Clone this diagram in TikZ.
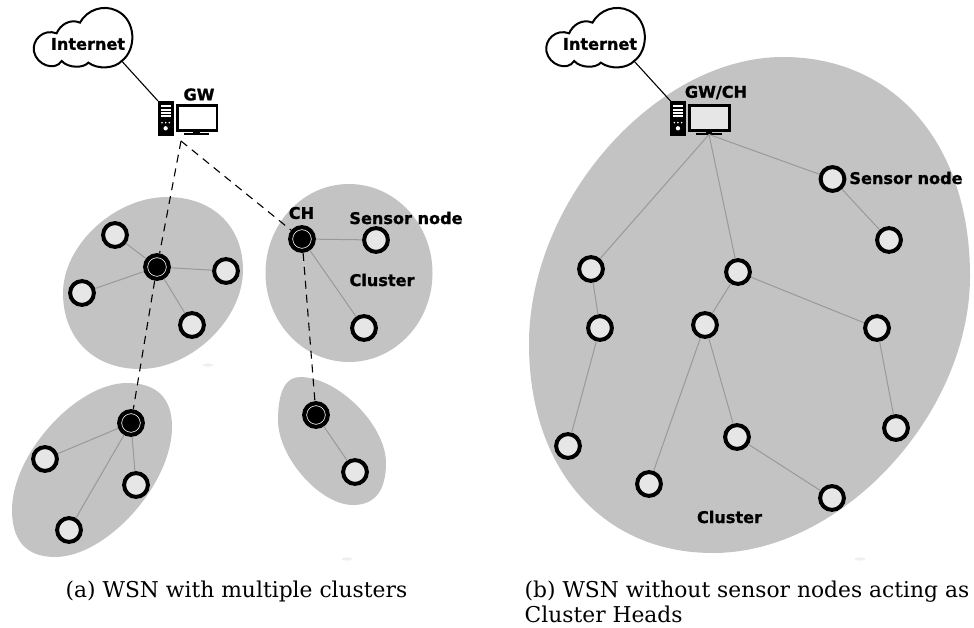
\documentclass[tikz,border=0pt]{standalone}
\usepackage{fontspec}
\setmainfont{Latin Modern Roman}
\newfontfamily\lab[FakeBold=1.2]{DejaVu Sans Bold}
\newfontfamily\capf{DejaVu Serif}
\definecolor{clu}{HTML}{C3C3C3}
\definecolor{nod}{HTML}{E6E6E6}
\definecolor{smudge}{HTML}{EFEFEF}
% closed blob through top, right, bottom and left extreme points (y downwards)
\newcommand\blobshape[6]{%
  \pgfmathsetmacro\ka{#5}\pgfmathsetmacro\kb{#6}%
  \drawblob#1;#2;#3;#4;}
\def\drawblob(#1,#2);(#3,#4);(#5,#6);(#7,#8);{%
  \fill[clusterbg] (#1,-#2)
    .. controls ({#1+\ka*(#3-#1)},-#2) and (#3,{-(#4+\ka*(#2-#4))}) .. (#3,-#4)
    .. controls (#3,{-(#4+\kb*(#6-#4))}) and ({#5+\kb*(#3-#5)},-#6) .. (#5,-#6)
    .. controls ({#5+\ka*(#7-#5)},-#6) and (#7,{-(#8+\ka*(#6-#8))}) .. (#7,-#8)
    .. controls (#7,{-(#8+\kb*(#2-#8))}) and ({#1+\kb*(#7-#1)},-#2) .. (#1,-#2) -- cycle;}
\tikzset{
  x=1pt,y=1pt,
  clusterbg/.style={fill=clu,draw=none},
  snode/.style={circle,draw=black,line width=4pt,fill=nod,minimum size=23.8pt,inner sep=0pt},
  chnode/.style={circle,draw=black,line width=4pt,fill=black,minimum size=23.8pt,inner sep=0pt,
    path picture={\draw[white,line width=0.8pt] (path picture bounding box.center) circle (9.4pt);}},
  link/.style={draw=black!40,line width=1pt},
  wire/.style={draw=black,line width=1.1pt},
  dlink/.style={draw=black,line width=1.1pt,dash pattern=on 8pt off 6pt},
  lbl/.style={font=\lab\fontsize{16.1}{18}\selectfont,inner sep=0pt,text=black,anchor=center},
  captxt/.style={font=\capf\fontsize{21.8}{25}\selectfont,inner sep=0pt,anchor=base west,text=black},
  pics/cloud/.style={code={
    \draw[black,line width=2pt,fill=white,x=0.3333pt,y=-0.3333pt]
      (305,183) .. controls (350,150) and (350,60) .. (290,32)
      .. controls (250,12) and (200,30) .. (180,68)
      .. controls (150,55) and (120,75) .. (110,100)
      .. controls (70,85) and (35,120) .. (42,155)
      .. controls (50,195) and (105,215) .. (125,183)
      .. controls (145,205) and (190,205) .. (205,188)
      .. controls (235,210) and (285,205) .. (305,183) -- cycle;
  }},
  pics/pc/.style={code={
    \begin{scope}[x=0.3333pt,y=-0.3333pt]
    \fill[black] (413,303) rectangle (461,408);
    \foreach \yy in {316,326,336,346} \fill[white] (423,\yy) rectangle (453,\yy+6.5);
    \foreach \xx in {426,437,448} \fill[white] (\xx,368) circle (2.6);
    \fill[white] (437,385) circle (6.5);
    \draw[black,line width=2.8pt,fill=#1] (472,317) rectangle (591,391);
    \fill[black] (520,393) rectangle (540,400);
    \fill[black] (492,400) rectangle (568,404);
    \end{scope}
  }},
}
\begin{document}
\begin{tikzpicture}
\useasboundingbox (0,0) rectangle (974,-628);
% clusters
\blobshape{(167,197)}{(243,270)}{(140,369)}{(63,293)}{0.60}{0.50}
\blobshape{(127,383)}{(172,427)}{(55,557)}{(12,510)}{0.66}{0.44}
\blobshape{(300,377)}{(386,463)}{(353,505)}{(278,420)}{0.44}{0.66}
\blobshape{(783,57)}{(970,276)}{(713,553)}{(529,344)}{0.60}{0.50}
\fill[clusterbg] (349,-273) ellipse [x radius=83.5,y radius=89];
\fill[smudge] (347,-559) ellipse [x radius=5.5,y radius=1.6];
\fill[smudge] (860,-559) ellipse [x radius=5.5,y radius=1.6];
\fill[smudge] (208,-365) ellipse [x radius=5.5,y radius=1.6];
% left nodes
\node[chnode] (ch1) at (302,-239) {};
\node[snode] (a1) at (376,-240) {};
\node[snode] (a2) at (364,-328) {};
\node[chnode] (ch2) at (157,-267) {};
\node[snode] (b1) at (115,-235) {};
\node[snode] (b2) at (226,-271) {};
\node[snode] (b3) at (82,-293) {};
\node[snode] (b4) at (192,-325) {};
\node[chnode] (ch3) at (131,-423) {};
\node[snode] (c1) at (45,-459) {};
\node[snode] (c2) at (136,-485) {};
\node[snode] (c3) at (69,-530) {};
\node[chnode] (ch4) at (316,-415) {};
\node[snode] (d1) at (355,-472) {};
% right nodes
\node[snode] (r1) at (832.5,-179) {};
\node[snode] (r2) at (889,-240) {};
\node[snode] (r3) at (591,-269) {};
\node[snode] (r4) at (600,-328) {};
\node[snode] (r5) at (568,-446) {};
\node[snode] (r6) at (738,-272) {};
\node[snode] (r7) at (705,-325) {};
\node[snode] (r8) at (877,-328) {};
\node[snode] (r9) at (896,-428) {};
\node[snode] (r10) at (649,-484) {};
\node[snode] (r11) at (737,-437) {};
\node[snode] (r12) at (832,-498) {};
% computers and clouds
\pic at (20,0) {cloud};
\pic at (532.5,0) {cloud};
\pic at (20,0) {pc=white};
\pic at (532.3,0) {pc=nod};
\coordinate (cl1) at (121.7,-61);
\coordinate (cl2) at (634,-61);
\coordinate (pc1t) at (158,-101);
\coordinate (pc2t) at (670.5,-101);
\coordinate (pc1b) at (181,-141);
\coordinate (pc2b) at (709,-134.5);
\draw[wire] (cl1) -- (pc1t);
\draw[wire] (cl2) -- (pc2t);
% links
\draw[link] (ch1) -- (a1);
\draw[link] (ch1) -- (a2);
\foreach \t in {b1,b2,b3,b4} \draw[link] (ch2) -- (\t);
\foreach \t in {c1,c2,c3} \draw[link] (ch3) -- (\t);
\draw[link] (ch4) -- (d1);
\draw[link] (pc2b) -- (r1);
\draw[link] (pc2b) -- (r3);
\draw[link] (pc2b) -- (r6);
\draw[link] (r1) -- (r2);
\draw[link] (r3) -- (r4);
\draw[link] (r4) -- (r5);
\draw[link] (r6) -- (r7);
\draw[link] (r6) -- (r8);
\draw[link] (r8) -- (r9);
\draw[link] (r7) -- (r10);
\draw[link] (r7) -- (r11);
\draw[link] (r11) -- (r12);
\draw[dlink] (pc1b) -- (ch2);
\draw[dlink] (ch2) -- (ch3);
\draw[dlink] (pc1b) -- (ch1);
\draw[dlink] (ch1) -- (ch4);
% labels
\node[lbl] (t1) at (88,-44) {Internet};
\node[lbl] (t2) at (600,-44) {Internet};
\node[lbl] (t3) at (199,-94.5) {GW};
\node[lbl] (t4) at (716,-92.5) {GW/CH};
\node[lbl] (t5) at (301.5,-213) {CH};
\node[lbl] (t6) at (406,-218) {Sensor node};
\node[lbl] (t7) at (382,-280) {Cluster};
\node[lbl] (t8) at (906,-178) {Sensor node};
\node[lbl] (t9) at (729.5,-517) {Cluster};
% captions
\node[captxt] (ca) at (65.5,-597.5) {(a) WSN with multiple clusters};
\node[captxt] (cb) at (524.5,-597) {(b) WSN without sensor nodes acting as};
\node[captxt] (cc) at (524.5,-622) {Cluster Heads};
\end{tikzpicture}
\end{document}
